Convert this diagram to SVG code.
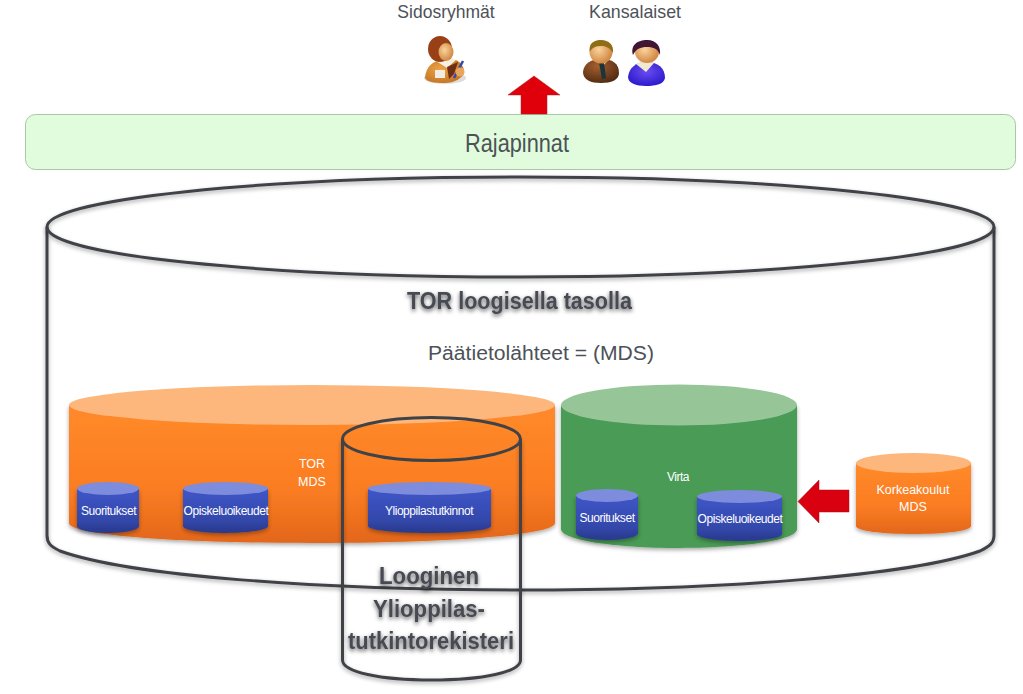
<svg xmlns="http://www.w3.org/2000/svg" width="1023" height="694" viewBox="0 0 1023 694">
<style>
text{font-family:"Liberation Sans",Arial,sans-serif;text-anchor:middle}
.dark{fill:#4d5158}
.w{fill:#fff;font-size:12.500px}
.small{fill:#fff;font-size:12px;letter-spacing:-.45px}
.line{fill:none;stroke:#3f4347;stroke-width:3}
.bold{font-weight:bold;fill:#464a52;filter:url(#ts)}
</style>
<defs>
<linearGradient id="org" x1="0" y1="0" x2="0" y2="1"><stop offset="0" stop-color="#ff8a2a"/><stop offset=".6" stop-color="#fb7d22"/><stop offset="1" stop-color="#e3671b"/></linearGradient>
<linearGradient id="blu" x1="0" y1="0" x2="0" y2="1"><stop offset="0" stop-color="#3f56c8"/><stop offset=".7" stop-color="#3348ab"/><stop offset="1" stop-color="#28398c"/></linearGradient>
<radialGradient id="skin" cx=".4" cy=".4" r=".7"><stop offset="0" stop-color="#fbd39c"/><stop offset="1" stop-color="#c97c35"/></radialGradient>
<radialGradient id="suit" cx=".4" cy=".3" r=".8"><stop offset="0" stop-color="#a55f2e"/><stop offset="1" stop-color="#4a2510"/></radialGradient>
<radialGradient id="blouse" cx=".5" cy=".4" r=".7"><stop offset="0" stop-color="#6a4cf0"/><stop offset="1" stop-color="#2314c8"/></radialGradient>
<radialGradient id="vest" cx=".4" cy=".4" r=".8"><stop offset="0" stop-color="#eda445"/><stop offset="1" stop-color="#b8691c"/></radialGradient>
<filter id="ds" x="-10%" y="-10%" width="120%" height="125%"><feDropShadow dx="0" dy="2" stdDeviation="2" flood-color="#000" flood-opacity=".35"/></filter>
<filter id="ts" x="-10%" y="-20%" width="120%" height="150%"><feDropShadow dx="0" dy="2" stdDeviation="2" flood-color="#000" flood-opacity=".65"/></filter>
<filter id="soft" x="-20%" y="-20%" width="140%" height="140%"><feGaussianBlur stdDeviation=".5"/></filter>
</defs>

<g id="sidosryhmat">
<text x="446" y="18" class="dark" font-size="17.5">Sidosryhmät</text>
<g filter="url(#soft)">
<ellipse cx="445" cy="78" rx="21" ry="6" fill="#ddd"/>
<path d="M425 78C426 66 433 61 442 60L456 60C462 63 464 68 464 72C463 78 455 83 444 83C434 83 427 82 425 78Z" fill="url(#vest)"/>
<path d="M436 61L447 68L456 60L452 58H440Z" fill="#f6efe3"/>
<path d="M447 67L458 62L454 74L449 79Z" fill="#6e2f14"/>
<rect x="435" y="70" width="10" height="8" fill="#f1ece4"/>
<ellipse cx="440" cy="49" rx="12" ry="13" fill="#9a3f18"/>
<ellipse cx="446" cy="52" rx="7.500" ry="9" fill="url(#skin)"/>
<path d="M454 78L463 61" stroke="#3048b0" stroke-width="2.500"/>
<circle cx="460" cy="72" r="4.500" fill="#e7a65c"/>
</g>
</g>

<g id="kansalaiset">
<text x="635" y="18" class="dark" font-size="17.8">Kansalaiset</text>
<g filter="url(#soft)">
<path d="M583 72C584 63 591 59 602 59C613 59 619 64 619 73C619 80 611 83 601 83C591 83 583 80 583 72Z" fill="url(#suit)"/>
<path d="M596 60H608L604 65L601 62Z" fill="#f4f0e8"/>
<path d="M599 62H604L606 78L602 79Z" fill="#14343c"/>
<circle cx="601" cy="52" r="11.500" fill="url(#skin)"/>
<path d="M590 52C588 42 596 40 601 40C609 40 614 45 613 53C610 48 606 46 602 46C596 46 592 47 590 52Z" fill="#8f6d14"/>
<path d="M628 77C629 68 636 62 646 62C658 62 665 68 665 78C664 84 656 86 646 86C636 86 628 83 628 77Z" fill="url(#blouse)"/>
<path d="M636 64L646 72L654 63L646 60Z" fill="#f1e9cf"/>
<ellipse cx="647" cy="52" rx="12" ry="11" fill="url(#skin)"/>
<path d="M633 55C630 45 638 40 647 40C657 40 661 47 660 55C658 49 654 47 647 47C640 47 636 49 633 55Z" fill="#3f1230"/>
</g>
</g>

<g id="rajapinnat">
<rect x="25.500" y="114.500" width="990" height="55" rx="10" fill="#e0fcdc" stroke="#a9c8a4"/>
<text x="517" y="152" class="dark" font-size="25" textLength="104" lengthAdjust="spacingAndGlyphs">Rajapinnat</text>
</g>

<g id="tor-loogisella">
<path class="line" d="M47 227V535C47 543 50 546 60 551C130 576 320 590 520 590C720 590 910 576 980 551C990 546 994 543 994 535V227" filter="url(#ds)"/>
<ellipse class="line" cx="520.500" cy="227" rx="473.500" ry="50" fill="#fff" filter="url(#ds)"/>
<text x="519.500" y="309" class="bold" font-size="23" textLength="225" lengthAdjust="spacingAndGlyphs">TOR loogisella tasolla</text>
<text x="541" y="360" class="dark" font-size="19.500" textLength="226" lengthAdjust="spacingAndGlyphs">Päätietolähteet = (MDS)</text>
</g>

<g id="tor-mds">
<path d="M69 405V523C69 535 175 543 312 543C449 543 555 535 555 523V405Z" fill="url(#org)" filter="url(#ds)"/>
<ellipse cx="312" cy="405" rx="243" ry="20" fill="#fdb77c"/>
<text x="312" y="468" class="w">TOR</text>
<text x="312" y="486" class="w">MDS</text>
</g>

<g id="virta">
<path d="M561 405V529C561 540 614 548 679 548C744 548 797 540 797 529V405Z" fill="#4a9b55" filter="url(#ds)"/>
<ellipse cx="679" cy="405" rx="118" ry="20.500" fill="#96c698"/>
<text x="678" y="481" class="small">Virta</text>
</g>

<g id="suoritukset-tor">
<path d="M77 489V526C77 530 91 533 108 533C125 533 139 530 139 526V489Z" fill="url(#blu)" filter="url(#ds)"/>
<ellipse cx="108" cy="488.500" rx="31" ry="6.500" fill="#7d8cdc"/>
<text x="108.500" y="515" class="small">Suoritukset</text>
</g>
<g id="opiskeluoikeudet-tor">
<path d="M183 489V526C183 530 202 533 225.500 533C249 533 268 530 268 526V489Z" fill="url(#blu)" filter="url(#ds)"/>
<ellipse cx="225.500" cy="488.500" rx="42.500" ry="6.500" fill="#7d8cdc"/>
<text x="226" y="515" class="small">Opiskeluoikeudet</text>
</g>
<g id="ylioppilastutkinnot">
<path d="M368 489V526C368 530 395 533 429.500 533C464 533 491 530 491 526V489Z" fill="url(#blu)" filter="url(#ds)"/>
<ellipse cx="429.500" cy="488.500" rx="61.500" ry="6.500" fill="#7d8cdc"/>
<text x="429" y="515" class="small">Ylioppilastutkinnot</text>
</g>
<g id="suoritukset-virta">
<path d="M576 496V533C576 537 590 540 607 540C624 540 638 537 638 533V496Z" fill="url(#blu)" filter="url(#ds)"/>
<ellipse cx="607" cy="495.500" rx="31" ry="6.500" fill="#7d8cdc"/>
<text x="607" y="522" class="small">Suoritukset</text>
</g>
<g id="opiskeluoikeudet-virta">
<path d="M697 497V534C697 538 716 541 739.500 541C763 541 782 538 782 534V497Z" fill="url(#blu)" filter="url(#ds)"/>
<ellipse cx="739.500" cy="496.500" rx="42.500" ry="6.500" fill="#7d8cdc"/>
<text x="740" y="523" class="small">Opiskeluoikeudet</text>
</g>

<g id="korkeakoulut-mds">
<path d="M856 463V526C856 531 882 534 913.500 534C945 534 971 531 971 526V463Z" fill="url(#org)" filter="url(#ds)"/>
<ellipse cx="913.500" cy="463" rx="57.500" ry="10" fill="#fdb77c"/>
<text x="913" y="494" class="w">Korkeakoulut</text>
<text x="913" y="511" class="w">MDS</text>
</g>

<g id="connectors">
<path d="M534 76L560 95H547V114H521V95H508Z" fill="#e0000c" stroke="#b0202a" stroke-width=".5"/>
<path d="M798 501.500L819 480V490H849V512H819V523Z" fill="#d9000f" stroke="#a01020" stroke-width=".5"/>
</g>

<g id="looginen-ylioppilastutkintorekisteri">
<path class="line" d="M342.500 439V660C342.500 672 380 680 431.500 680C483 680 520.500 672 520.500 660V439" filter="url(#ds)"/>
<ellipse class="line" cx="431.500" cy="439" rx="89" ry="21.500"/>
<text x="429" y="584" class="bold" font-size="23" textLength="100" lengthAdjust="spacingAndGlyphs">Looginen</text>
<text x="429" y="617" class="bold" font-size="23" textLength="112" lengthAdjust="spacingAndGlyphs">Ylioppilas-</text>
<text x="431" y="649" class="bold" font-size="23" textLength="166" lengthAdjust="spacingAndGlyphs">tutkintorekisteri</text>
</g>
</svg>
